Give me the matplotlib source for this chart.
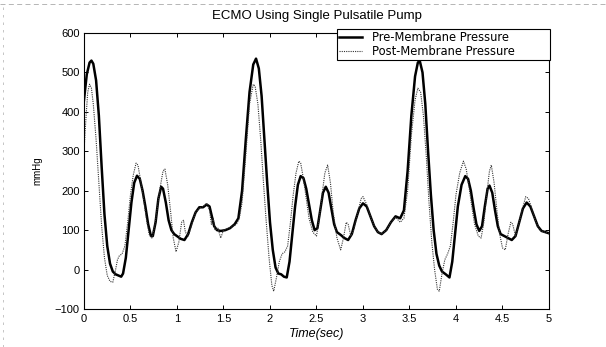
import matplotlib
matplotlib.use("Agg")
import matplotlib.pyplot as plt
from matplotlib.lines import Line2D

plt.rcParams['font.family'] = ['Liberation Sans', 'DejaVu Sans']

# pre-membrane pressure (mmHg) vs time (sec)
pre_t = [0.00, 0.03, 0.06, 0.08, 0.10, 0.13, 0.16, 0.19, 0.22, 0.25, 0.28, 0.31, 0.34, 0.37, 0.40,
         0.42, 0.45, 0.48, 0.51, 0.54, 0.57, 0.60, 0.63, 0.66, 0.69, 0.72, 0.74, 0.77, 0.80, 0.83,
         0.85, 0.88, 0.91, 0.94, 0.97, 1.00, 1.04, 1.08, 1.12, 1.16, 1.20, 1.24, 1.28, 1.32, 1.35,
         1.38, 1.40, 1.43, 1.47, 1.52, 1.57, 1.62, 1.66, 1.70, 1.74, 1.78, 1.82, 1.85, 1.88, 1.91,
         1.94, 1.97, 2.00, 2.03, 2.06, 2.09, 2.12, 2.15, 2.18, 2.21, 2.24, 2.27, 2.30, 2.33, 2.36,
         2.39, 2.42, 2.45, 2.48, 2.51, 2.54, 2.57, 2.60, 2.63, 2.66, 2.69, 2.72, 2.76, 2.80, 2.84,
         2.88, 2.92, 2.96, 3.00, 3.04, 3.08, 3.12, 3.16, 3.20, 3.25, 3.30, 3.35, 3.40, 3.44, 3.48,
         3.52, 3.56, 3.59, 3.61, 3.64, 3.67, 3.70, 3.73, 3.76, 3.79, 3.82, 3.85, 3.89, 3.93, 3.96,
         3.99, 4.02, 4.06, 4.10, 4.13, 4.16, 4.19, 4.22, 4.25, 4.28, 4.31, 4.34, 4.36, 4.39, 4.42,
         4.45, 4.48, 4.52, 4.56, 4.60, 4.64, 4.68, 4.72, 4.76, 4.80, 4.84, 4.88, 4.92, 4.96, 5.00]
pre_p = [430, 495, 525, 530, 522, 480, 390, 260, 140, 60, 15, -5, -12, -15, -18,
         -10, 30, 100, 170, 220, 238, 230, 200, 160, 115, 85, 85, 120, 180, 210,
         205, 170, 125, 100, 90, 85, 78, 75, 90, 120, 145, 158, 158, 165, 160,
         130, 110, 100, 98, 100, 105, 115, 130, 200, 330, 450, 520, 535, 510, 440,
         330, 220, 120, 50, 5, -10, -12, -18, -20, 20, 90, 160, 215, 237, 232,
         205, 165, 125, 100, 105, 150, 195, 210, 195, 155, 115, 95, 88, 80, 75,
         90, 125, 155, 168, 160, 135, 110, 95, 90, 100, 120, 135, 130, 150, 250,
         390, 490, 525, 530, 500, 420, 300, 190, 100, 40, 10, -5, -12, -20, 20,
         90, 160, 215, 237, 230, 200, 155, 115, 98, 110, 160, 205, 213, 195, 150,
         110, 90, 85, 80, 75, 85, 120, 155, 170, 160, 135, 110, 98, 95, 92]

# post-membrane pressure (mmHg) vs time (sec)
post_t = [0.00, 0.02, 0.04, 0.06, 0.08, 0.10, 0.13, 0.16, 0.19, 0.22, 0.25, 0.28, 0.31, 0.34, 0.36,
          0.38, 0.41, 0.44, 0.47, 0.50, 0.53, 0.56, 0.58, 0.61, 0.64, 0.67, 0.70, 0.73, 0.76, 0.79,
          0.82, 0.85, 0.87, 0.90, 0.93, 0.96, 0.99, 1.02, 1.05, 1.07, 1.09, 1.12, 1.16, 1.20, 1.24,
          1.28, 1.32, 1.35, 1.37, 1.39, 1.41, 1.44, 1.47, 1.50, 1.55, 1.60, 1.64, 1.67, 1.70, 1.74,
          1.78, 1.82, 1.84, 1.87, 1.90, 1.93, 1.96, 1.99, 2.02, 2.04, 2.07, 2.10, 2.13, 2.16, 2.19,
          2.22, 2.25, 2.28, 2.31, 2.33, 2.36, 2.39, 2.42, 2.46, 2.50, 2.53, 2.56, 2.59, 2.62, 2.65,
          2.68, 2.72, 2.76, 2.79, 2.82, 2.84, 2.87, 2.90, 2.94, 2.98, 3.00, 3.04, 3.08, 3.12, 3.16,
          3.20, 3.25, 3.30, 3.35, 3.40, 3.44, 3.48, 3.52, 3.56, 3.59, 3.62, 3.65, 3.68, 3.71, 3.74,
          3.77, 3.80, 3.82, 3.85, 3.88, 3.91, 3.94, 3.97, 4.00, 4.04, 4.08, 4.11, 4.14, 4.17, 4.20,
          4.24, 4.27, 4.30, 4.33, 4.36, 4.38, 4.41, 4.44, 4.47, 4.50, 4.53, 4.56, 4.59, 4.61, 4.64,
          4.67, 4.71, 4.75, 4.78, 4.82, 4.86, 4.90, 4.95, 5.00]
post_p = [300, 380, 450, 470, 460, 420, 330, 220, 110, 30, -15, -30, -32, 0, 25,
          35, 40, 60, 120, 190, 240, 270, 265, 225, 180, 130, 90, 80, 110, 160,
          210, 250, 255, 215, 150, 80, 45, 70, 120, 125, 95, 85, 115, 145, 155,
          160, 168, 150, 115, 130, 100, 105, 80, 100, 105, 110, 115, 130, 170, 290,
          420, 470, 465, 420, 330, 220, 120, 30, -40, -55, -20, 20, 40, 45, 60,
          120, 190, 245, 275, 270, 230, 180, 130, 95, 85, 130, 190, 245, 265, 220,
          145, 80, 50, 80, 120, 115, 85, 100, 140, 180, 185, 165, 135, 110, 95,
          90, 100, 120, 133, 120, 130, 200, 340, 430, 460, 450, 390, 290, 170, 70,
          0, -50, -55, -10, 25, 40, 60, 120, 190, 245, 275, 255, 210, 160, 115,
          85, 80, 120, 190, 250, 265, 220, 150, 90, 55, 50, 90, 120, 115, 85,
          110, 150, 185, 180, 150, 120, 100, 95, 92]

x_ticks = [0, 0.5, 1, 1.5, 2, 2.5, 3, 3.5, 4, 4.5, 5]
x_labels = ['0', '0.5', '1', '1.5', '2', '2.5', '3', '3.5', '4', '4.5', '5']
y_ticks = [-100, 0, 100, 200, 300, 400, 500, 600]

fig = plt.figure(figsize=(6.06, 3.47), dpi=100)
ax = fig.add_axes([0.1386, 0.1095, 0.7673, 0.7954])

ax.plot(pre_t, pre_p, color='black', lw=1.8, label='Pre-Membrane Pressure')
ax.plot(post_t, post_p, color='#333333', lw=0.8, linestyle=(0, (1, 1)), label='Post-Membrane Pressure')

ax.set_xlim(0, 5)
ax.set_ylim(-100, 600)
ax.set_xticks(x_ticks)
ax.set_xticklabels(x_labels)
ax.set_yticks(y_ticks)
ax.tick_params(direction='in', top=True, right=True, labelsize=8, length=3, width=0.7)
ax.tick_params(axis='y', pad=3)
for s in ax.spines.values():
    s.set_linewidth(0.8)

ax.set_title('ECMO Using Single Pulsatile Pump', fontsize=9.5, pad=10)
ax.set_xlabel('Time(sec)', fontsize=9, style='italic', labelpad=3)
ax.set_ylabel('mmHg', fontsize=7, labelpad=9)

leg = ax.legend(loc='upper left', bbox_to_anchor=(0.544, 0.905, 0.459, 0.11), mode='expand',
                prop={'family': 'DejaVu Sans', 'size': 8.3},
                fancybox=False, framealpha=1, edgecolor='black', borderpad=0.2,
                handlelength=2.0, handletextpad=0.8, labelspacing=0.05, borderaxespad=0)
leg.get_frame().set_linewidth(0.8)

# faint scan border
fig.add_artist(Line2D([0.0, 1.0], [0.988, 0.988], transform=fig.transFigure,
                      color='#aaaaaa', lw=0.6, linestyle=(0, (6, 4))))
fig.add_artist(Line2D([0.005, 0.005], [0.0, 0.99], transform=fig.transFigure,
                      color='#bbbbbb', lw=0.6, linestyle=(0, (3, 6))))

fig.savefig('out.png', dpi=100)
